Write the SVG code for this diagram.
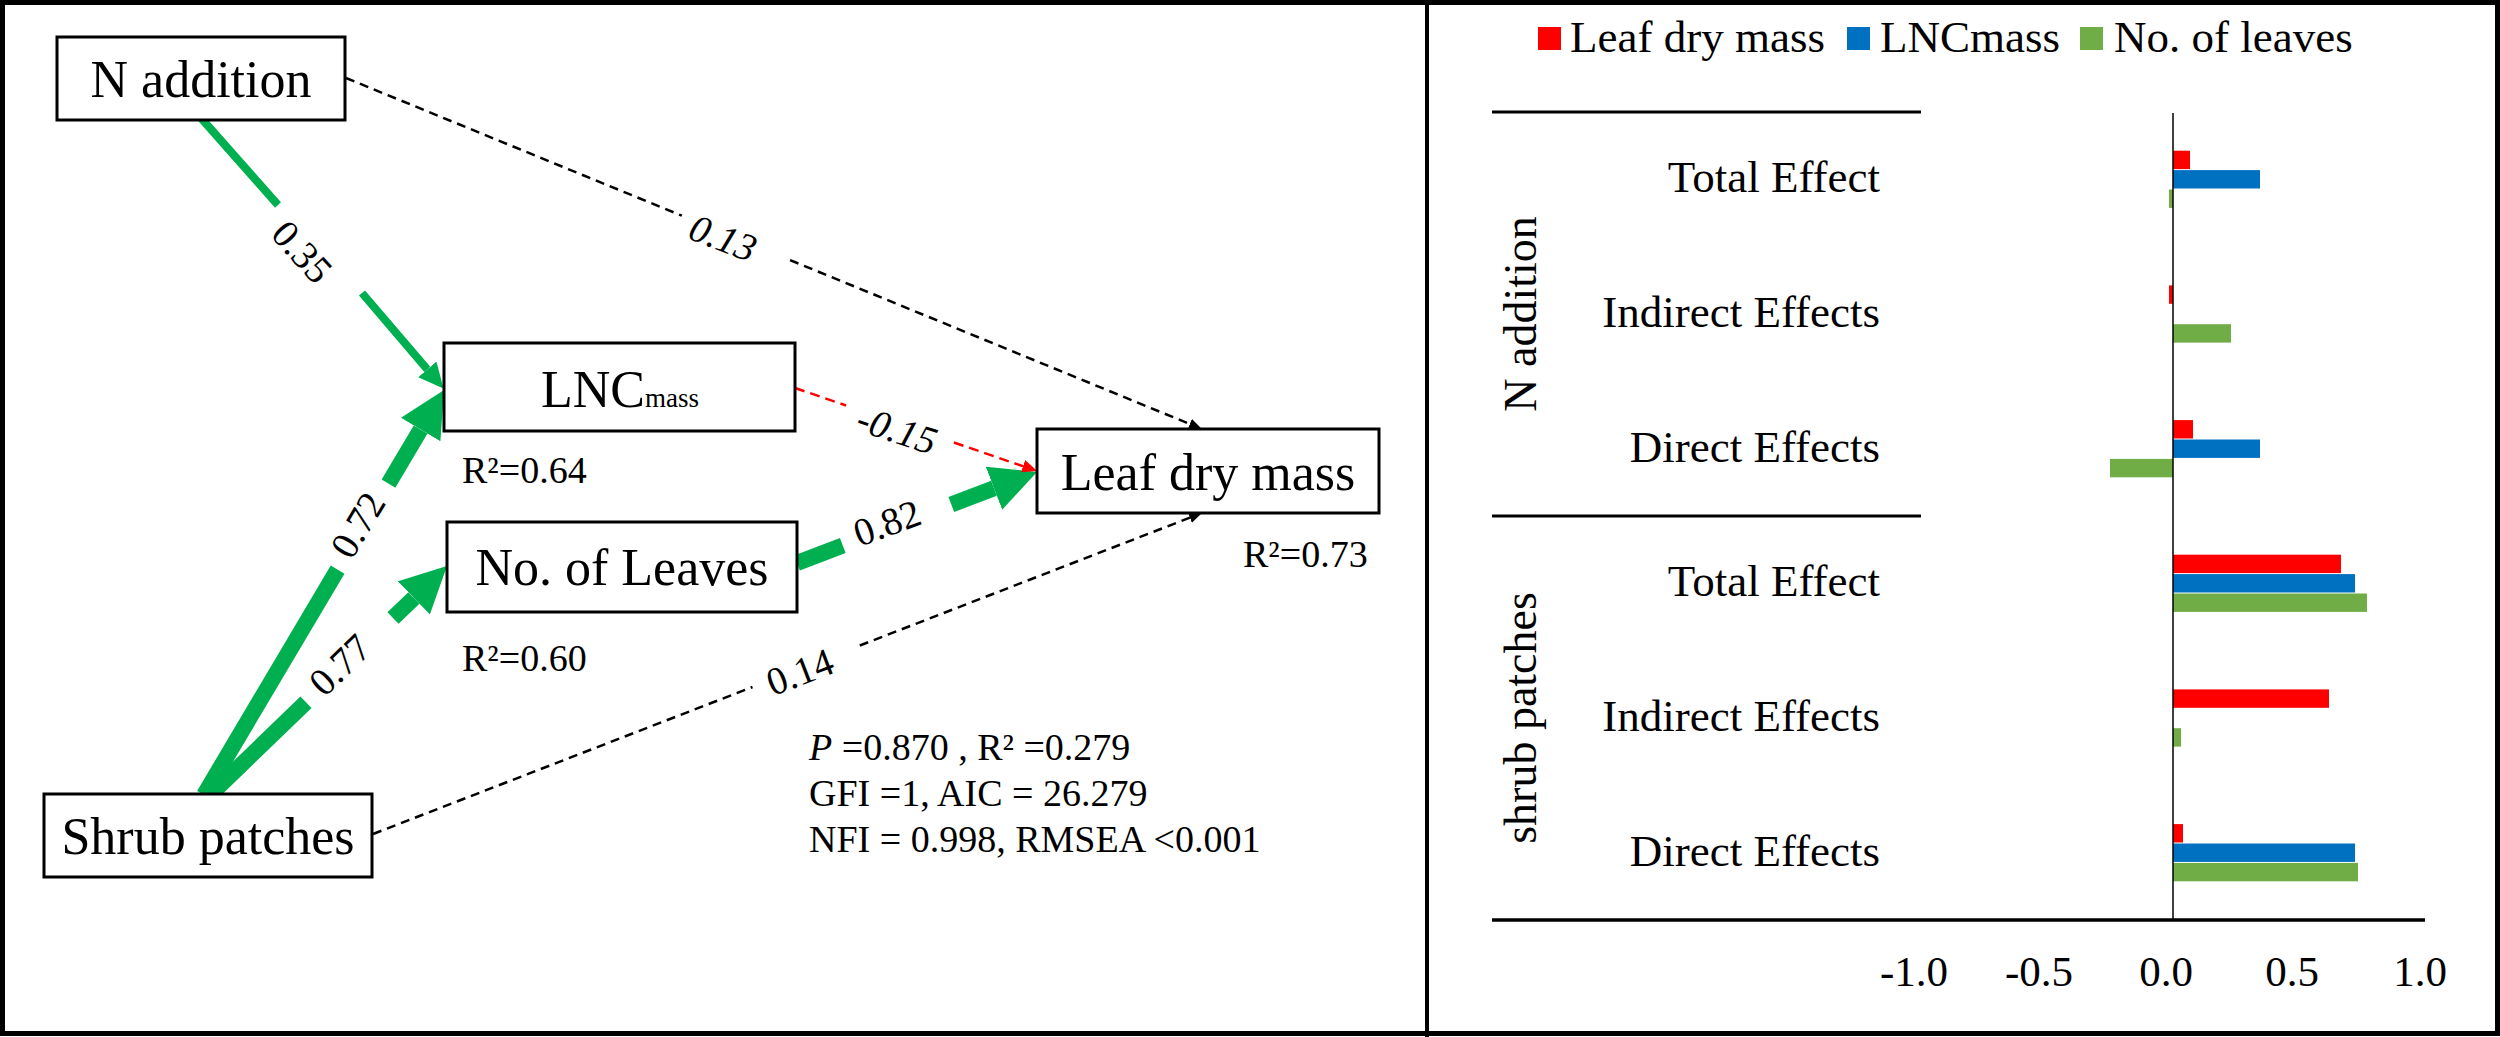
<svg xmlns="http://www.w3.org/2000/svg" width="2500" height="1037" viewBox="0 0 2500 1037">
<style>
.box{fill:#fff;stroke:#000;stroke-width:3}
.nt{font-family:"Liberation Serif","Times New Roman",serif;font-size:52px;fill:#000;text-anchor:middle}
.r2{font-family:"Liberation Serif","Times New Roman",serif;font-size:38px;fill:#000}
.lbl{font-family:"Liberation Serif","Times New Roman",serif;font-size:39px;fill:#000;text-anchor:middle}
.it{font-style:italic}
.gs{fill:none;stroke:#00B050;stroke-width:8}
.gl{fill:none;stroke:#00B050;stroke-width:16}
.rd{fill:none;stroke:#FF0000;stroke-width:2.5;stroke-dasharray:10 6}
.bd{fill:none;stroke:#000;stroke-width:2.5;stroke-dasharray:9 6}
.ax{font-family:"Liberation Serif","Times New Roman",serif;font-size:43px;fill:#000;text-anchor:middle}
.cat{font-family:"Liberation Serif","Times New Roman",serif;font-size:45px;fill:#000;text-anchor:end}
.leg{font-family:"Liberation Serif","Times New Roman",serif;font-size:45px;fill:#000}
.grp{font-family:"Liberation Serif","Times New Roman",serif;font-size:46px;fill:#000;text-anchor:middle}
.br{fill:#FF0000}.bb{fill:#0070C0}.bg{fill:#70AD47}
</style>
<defs>
<marker id="ahS" markerUnits="userSpaceOnUse" viewBox="0 0 25 24" markerWidth="25" markerHeight="24" refX="0" refY="12" orient="auto"><path d="M0,0 L25,12 L0,24 z" fill="#00B050"/></marker>
<marker id="ahL" markerUnits="userSpaceOnUse" viewBox="0 0 46 46" markerWidth="46" markerHeight="46" refX="0" refY="23" orient="auto"><path d="M0,0 L46,23 L0,46 z" fill="#00B050"/></marker>
<marker id="ahR" markerUnits="userSpaceOnUse" viewBox="0 0 15 13" markerWidth="15" markerHeight="13" refX="0" refY="6.5" orient="auto"><path d="M0,0 L15,6.5 L0,13 z" fill="#FF0000"/></marker>
<marker id="ahB" markerUnits="userSpaceOnUse" viewBox="0 0 13 11" markerWidth="13" markerHeight="11" refX="0" refY="5.5" orient="auto"><path d="M0,0 L13,5.5 L0,11 z" fill="#000"/></marker>
</defs>
<rect x="0" y="0" width="2500" height="1037" fill="#fff"/>
<rect x="2.5" y="2.5" width="2495" height="1031" fill="none" stroke="#000" stroke-width="5"/>
<line x1="1427" y1="0" x2="1427" y2="1037" stroke="#000" stroke-width="4"/>

<g id="connectors">
<path class="gs" d="M201,118 L278,205 M362,293 L427.3,369.4" marker-end="url(#ahS)"/>
<path class="gl" d="M204,795 L337.6,569.6 M388.5,483.6 L420.6,429.5" marker-end="url(#ahL)"/>
<path class="gl" d="M210,795 L306,702.2 M393,618.1 L413.9,597.9" marker-end="url(#ahL)"/>
<path class="gl" d="M797,563 L842.8,545.6 M951.3,504.5 L994,488.3" marker-end="url(#ahL)"/>
<path class="rd" d="M795,388 L846.1,405.5 M953.9,442.5 L1023,466.2" marker-end="url(#ahR)"/>
<path class="bd" d="M346,78 L681.9,215.7 M790.1,260.1 L1189.8,424" marker-end="url(#ahB)"/>
<path class="bd" d="M373,834 L752.5,687 M859.8,645.5 L1189.9,517.7" marker-end="url(#ahB)"/>
<text class="lbl" x="302" y="265" transform="rotate(48 302 252)">0.35</text>
<text class="lbl it" x="723" y="251" transform="rotate(21 723 238)">0.13</text>
<text class="lbl it" x="897" y="443" transform="rotate(18 897 430)">-0.15</text>
<text class="lbl" x="887" y="536" transform="rotate(-20 887 523)">0.82</text>
<text class="lbl" x="358" y="538" transform="rotate(-59 358 525)">0.72</text>
<text class="lbl" x="340" y="678" transform="rotate(-44 340 665)">0.77</text>
<text class="lbl" x="800" y="685" transform="rotate(-21 800 672)">0.14</text>
</g>

<g id="n-addition">
<rect class="box" x="57" y="37" width="288" height="83"/>
<text class="nt" x="201" y="97">N addition</text>
</g>
<g id="lnc-mass">
<rect class="box" x="444" y="343" width="351" height="88"/>
<text class="nt" x="620" y="407">LNC<tspan font-size="27">mass</tspan></text>
<text class="r2" x="462" y="483">R²=0.64</text>
</g>
<g id="no-of-leaves">
<rect class="box" x="447" y="522" width="350" height="90"/>
<text class="nt" x="622" y="585">No. of Leaves</text>
<text class="r2" x="462" y="671">R²=0.60</text>
</g>
<g id="shrub-patches">
<rect class="box" x="44" y="794" width="328" height="83"/>
<text class="nt" x="208" y="854">Shrub patches</text>
</g>
<g id="leaf-dry-mass">
<rect class="box" x="1037" y="429" width="342" height="84"/>
<text class="nt" x="1208" y="490">Leaf dry mass</text>
<text class="r2" x="1243" y="567">R²=0.73</text>
</g>
<g id="fit-stats">
<text class="r2" x="809" y="760"><tspan font-style="italic">P</tspan> =0.870 , R² =0.279</text>
<text class="r2" x="809" y="806">GFI =1, AIC = 26.279</text>
<text class="r2" x="809" y="852">NFI = 0.998, RMSEA &lt;0.001</text>
</g>

<g id="bar-chart">
<g id="legend">
<rect class="br" x="1538" y="27" width="23" height="23"/>
<text class="leg" x="1570" y="52">Leaf dry mass</text>
<rect class="bb" x="1847" y="27" width="23" height="23"/>
<text class="leg" x="1880" y="52">LNCmass</text>
<rect class="bg" x="2080" y="27" width="23" height="23"/>
<text class="leg" x="2114" y="52">No. of leaves</text>
</g>
<line x1="1492" y1="112" x2="1921" y2="112" stroke="#000" stroke-width="3"/>
<line x1="1492" y1="516" x2="1921" y2="516" stroke="#000" stroke-width="3"/>
<line x1="1492" y1="920" x2="2425" y2="920" stroke="#000" stroke-width="3.5"/>
<text class="grp" x="1536" y="314" transform="rotate(-90 1536 314)">N addition</text>
<text class="grp" x="1536" y="718" transform="rotate(-90 1536 718)">shrub patches</text>
<text class="cat" x="1880" y="192">Total Effect</text>
<text class="cat" x="1880" y="327">Indirect Effects</text>
<text class="cat" x="1880" y="462">Direct Effects</text>
<text class="cat" x="1880" y="596">Total Effect</text>
<text class="cat" x="1880" y="731">Indirect Effects</text>
<text class="cat" x="1880" y="866">Direct Effects</text>
<g id="bars">
<rect class="br" x="2173" y="150.7" width="17" height="18.4"/>
<rect class="bb" x="2173" y="170.1" width="87" height="18.4"/>
<rect class="bg" x="2169" y="189.5" width="4" height="18.4"/>
<rect class="br" x="2169" y="285.4" width="4" height="18.4"/>
<rect class="bg" x="2173" y="324.2" width="58" height="18.4"/>
<rect class="br" x="2173" y="420.1" width="20" height="18.4"/>
<rect class="bb" x="2173" y="439.5" width="87" height="18.4"/>
<rect class="bg" x="2110" y="458.9" width="63" height="18.4"/>
<rect class="br" x="2173" y="554.7" width="168" height="18.4"/>
<rect class="bb" x="2173" y="574.1" width="182" height="18.4"/>
<rect class="bg" x="2173" y="593.5" width="194" height="18.4"/>
<rect class="br" x="2173" y="689.4" width="156" height="18.4"/>
<rect class="bg" x="2173" y="728.2" width="8" height="18.4"/>
<rect class="br" x="2173" y="824.1" width="10" height="18.4"/>
<rect class="bb" x="2173" y="843.5" width="182" height="18.4"/>
<rect class="bg" x="2173" y="862.9" width="185" height="18.4"/>
</g>
<line x1="2173" y1="113" x2="2173" y2="920" stroke="#000" stroke-width="1.5"/>
<text class="ax" x="1914" y="986">-1.0</text>
<text class="ax" x="2039" y="986">-0.5</text>
<text class="ax" x="2166" y="986">0.0</text>
<text class="ax" x="2292" y="986">0.5</text>
<text class="ax" x="2420" y="986">1.0</text>
</g>
</svg>
